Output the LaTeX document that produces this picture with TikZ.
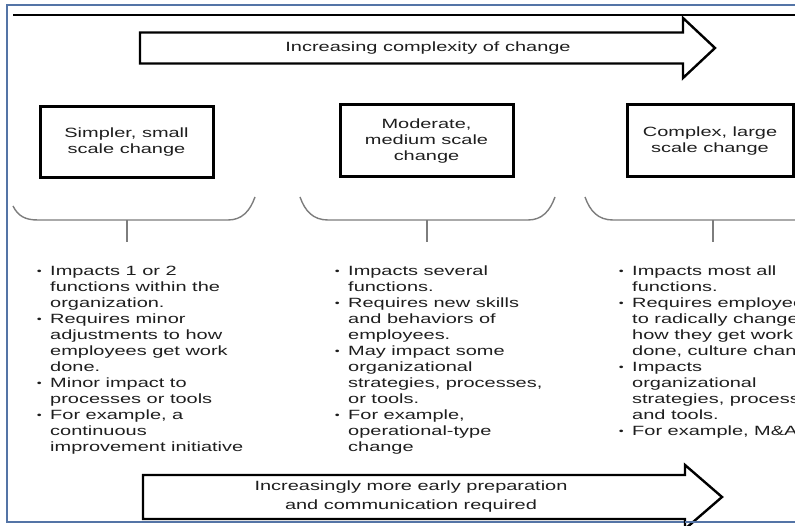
\documentclass[tikz,border=0pt]{standalone}
\usepackage{fontspec}
\setmainfont{Liberation Sans}[FakeStretch=1.49]
\definecolor{frameblue}{RGB}{84,116,166}
\definecolor{txt}{RGB}{30,30,30}
\definecolor{brk}{RGB}{125,125,125}
\newcommand{\bul}{\leavevmode\llap{\raisebox{0.2ex}{\scalebox{0.7}{•}}\hspace{8.5pt}}}
\newcommand{\fs}{\fontsize{13.4}{16}\selectfont}
\tikzset{
  cbox/.style={draw=black, line width=3pt, align=center, font=\fs, text=txt, inner sep=0pt},
  bigarrow/.style={draw=black, line width=2.4pt, line join=miter, fill=white},
  brace/.style={draw=brk, line width=1.4pt},
  lst/.style={anchor=base west, inner sep=0pt, text=txt, font=\fs},
  atext/.style={align=center, font=\fs, text=txt, inner sep=0pt}
}
\begin{document}
\begin{tikzpicture}[x=1pt,y=-1pt]
\useasboundingbox (0,0) rectangle (795,526);
\begin{scope}
\clip (0,0) rectangle (795,526);
% frame
\draw[frameblue, line width=2pt] (800,5.5) -- (7,5.5) -- (7,522) -- (800,522);
\draw[black, line width=1.5pt] (13,15) -- (800,15);
% top arrow
\draw[bigarrow] (140,32.5) -- (683,32.5) -- (683,18) -- (715,48) -- (683,78) -- (683,63.5) -- (140,63.5) -- cycle;
\node[atext] (topt) at (428,48) {Increasing complexity of change};
% boxes
\node[cbox, minimum width=173pt, minimum height=71pt] (b1) at (126.5,142.5) {Simpler, small\\scale change};
\node[cbox, minimum width=173pt, minimum height=72pt] (b2) at (426.5,141) {Moderate,\\medium scale\\change};
\node[cbox, minimum width=166pt, minimum height=72pt] (b3) at (710,141) {Complex, large\\scale change};
% brackets
\draw[brace] (13,206) .. controls (18,216) and (25,220) .. (38,220) -- (228,220) .. controls (242,220) and (250,211) .. (255,197);
\draw[brace] (300,197) .. controls (305,211) and (313,220) .. (328,220) -- (528,220) .. controls (542,220) and (550,211) .. (555,197);
\draw[brace] (585,197) .. controls (590,211) and (598,220) .. (613,220) -- (800,220);
\coordinate (s1) at (127,220); \coordinate (e1) at (127,242);
\coordinate (s2) at (427,220); \coordinate (e2) at (427,242);
\coordinate (s3) at (713,220); \coordinate (e3) at (713,242);
\draw[brace] (s1) -- (e1);
\draw[brace] (s2) -- (e2);
\draw[brace] (s3) -- (e3);
% lists
\node[lst] (l1) at (50,276) {\parbox[t]{260pt}{\fs\raggedright
\bul Impacts 1 or 2\\
functions within the\\
organization.\\
\bul Requires minor\\
adjustments to how\\
employees get work\\
done.\\
\bul Minor impact to\\
processes or tools\\
\bul For example, a\\
continuous\\
improvement initiative}};
\node[lst] (l2) at (348,276) {\parbox[t]{260pt}{\fs\raggedright
\bul Impacts several\\
functions.\\
\bul Requires new skills\\
and behaviors of\\
employees.\\
\bul May impact some\\
organizational\\
strategies, processes,\\
or tools.\\
\bul For example,\\
operational-type\\
change}};
\node[lst] (l3) at (632,276) {\parbox[t]{260pt}{\fs\raggedright
\bul Impacts most all\\
functions.\\
\bul Requires employees\\
to radically change\\
how they get work\\
done, culture change\\
\bul Impacts\\
organizational\\
strategies, processes,\\
and tools.\\
\bul For example, M\&A}};
% bottom arrow
\draw[bigarrow] (143,475) -- (685,475) -- (685,465) -- (722,497) -- (685,529) -- (685,519) -- (143,519) -- cycle;
\draw[frameblue, line width=2pt] (685,522) -- (800,522);
\node[atext, font=\fontsize{13.4}{19}\selectfont] (bott) at (411,497) {Increasingly more early preparation\\and communication required};
\end{scope}
\end{tikzpicture}
\end{document}
